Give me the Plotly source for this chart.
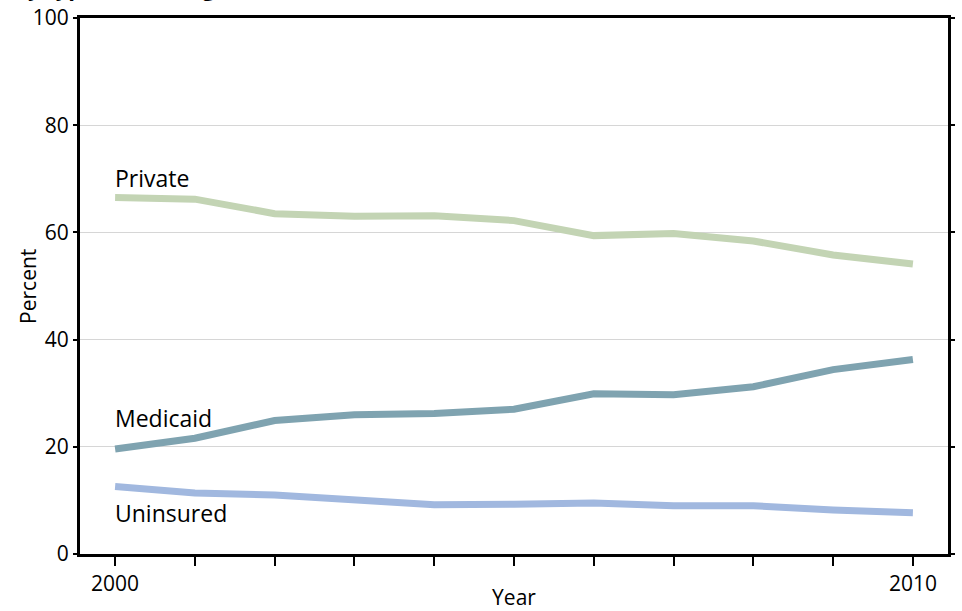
import plotly.graph_objects as go

years = [2000, 2001, 2002, 2003, 2004, 2005, 2006, 2007, 2008, 2009, 2010]
private = [66.5, 66.2, 63.5, 63.0, 63.1, 62.2, 59.4, 59.8, 58.4, 55.8, 54.1]
medicaid = [19.6, 21.6, 24.9, 26.0, 26.2, 27.0, 29.9, 29.7, 31.2, 34.4, 36.3]
uninsured = [12.6, 11.4, 11.0, 10.0, 9.2, 9.3, 9.5, 9.0, 9.0, 8.2, 7.7]
series_names = ["Private", "Medicaid", "Uninsured"]
y_ticks = [0, 20, 40, 60, 80, 100]
x_tick_labels = ["2000", "", "", "", "", "", "", "", "", "", "2010"]
title_text = "Births by type of coverage in the United States, 2000\u20132010"

colors = ["#c3d4b4", "#7fa3b0", "#a1b8df"]
FONT = "Open Sans"

fig = go.Figure()
for name, vals, col in zip(series_names, [private, medicaid, uninsured], colors):
    fig.add_trace(go.Scatter(x=years, y=vals, mode="lines", name=name,
                             line=dict(color=col, width=7), showlegend=False,
                             hoverinfo="x+y+name"))

# series labels (offsets in pixels from the first data point)
label_shift = [20, 31, -27]
for name, vals, dy in zip(series_names, [private, medicaid, uninsured], label_shift):
    fig.add_annotation(x=years[0], y=vals[0], text=name, showarrow=False,
                       xanchor="left", yanchor="middle", yshift=dy, xshift=-2,
                       font=dict(family=FONT, size=23, color="black"))

# title (partly above the visible page, as in the reference)
fig.add_annotation(xref="paper", yref="paper", x=-0.161, y=1.026,
                   xanchor="left", yanchor="bottom", showarrow=False,
                   text="<b>" + title_text + "</b>",
                   font=dict(family=FONT, size=22, color="black"))

# y-axis title
fig.add_annotation(xref="paper", yref="paper", x=-0.06, y=0.5,
                   xanchor="center", yanchor="middle", showarrow=False,
                   text="Percent", textangle=-90,
                   font=dict(family=FONT, size=21, color="black"))

fig.update_layout(
    width=962, height=611,
    margin=dict(l=80, r=14, t=18, b=57),
    paper_bgcolor="white", plot_bgcolor="white",
    font=dict(family=FONT, size=21, color="black"),
    xaxis=dict(range=[1999.56, 2010.44], tickmode="array", tickvals=years,
               ticktext=x_tick_labels, ticks="outside", ticklen=9, tickwidth=2,
               tickcolor="black", showline=True, linecolor="black", linewidth=3,
               mirror=True, showgrid=False, zeroline=False, automargin=False,
               title=dict(text="Year", font=dict(family=FONT, size=21), standoff=0),
               tickfont=dict(family=FONT, size=21)),
    yaxis=dict(range=[0, 100], tickmode="array", tickvals=y_ticks,
               ticks="outside", ticklen=4, tickwidth=1.5, tickcolor="black",
               showline=True, linecolor="black", linewidth=3, mirror="ticks",
               showgrid=True, gridcolor="#d6d6d6", gridwidth=1, zeroline=False,
               automargin=False, tickfont=dict(family=FONT, size=21)),
)

fig.write_html("out.html", config={"displayModeBar": False},
               post_script="document.body.style.margin='0';document.body.style.overflow='hidden';")
